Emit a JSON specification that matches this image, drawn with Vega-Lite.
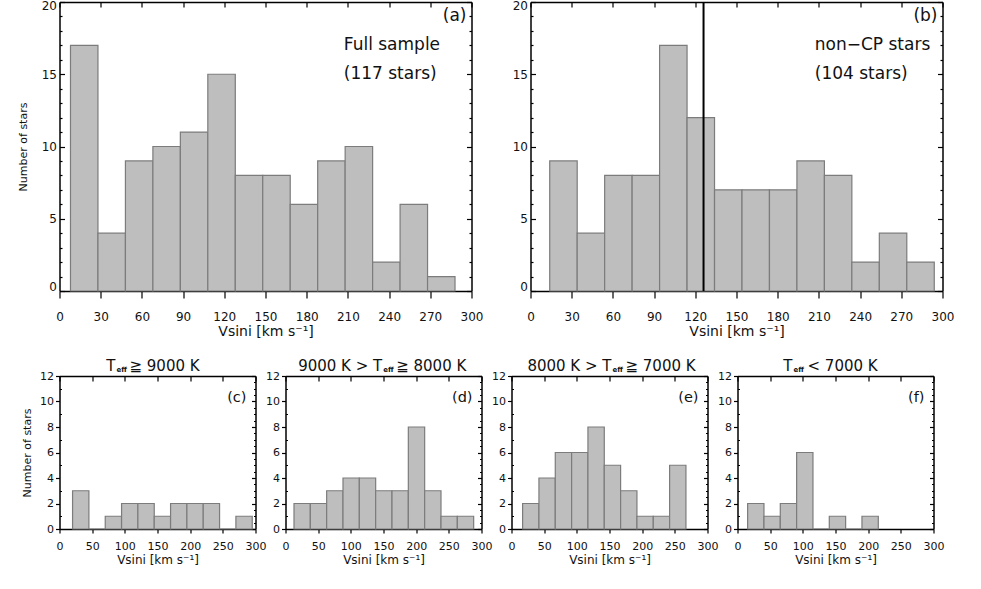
{
"$schema": "https://vega.github.io/schema/vega-lite/v6.json",
"padding": {"left": 16.5, "top": -1, "right": 5, "bottom": 5},
"background": "white",
"datasets": {
"a": [{"lo":8,"hi":28,"n":17},{"lo":28,"hi":48,"n":4},{"lo":48,"hi":68,"n":9},{"lo":68,"hi":88,"n":10},{"lo":88,"hi":108,"n":11},{"lo":108,"hi":128,"n":15},{"lo":128,"hi":148,"n":8},{"lo":148,"hi":168,"n":8},{"lo":168,"hi":188,"n":6},{"lo":188,"hi":208,"n":9},{"lo":208,"hi":228,"n":10},{"lo":228,"hi":248,"n":2},{"lo":248,"hi":268,"n":6},{"lo":268,"hi":288,"n":1}],
"b": [{"lo":14,"hi":34,"n":9},{"lo":34,"hi":54,"n":4},{"lo":54,"hi":74,"n":8},{"lo":74,"hi":94,"n":8},{"lo":94,"hi":114,"n":17},{"lo":114,"hi":134,"n":12},{"lo":134,"hi":154,"n":7},{"lo":154,"hi":174,"n":7},{"lo":174,"hi":194,"n":7},{"lo":194,"hi":214,"n":9},{"lo":214,"hi":234,"n":8},{"lo":234,"hi":254,"n":2},{"lo":254,"hi":274,"n":4},{"lo":274,"hi":294,"n":2}],
"c": [{"lo":20,"hi":45,"n":3},{"lo":45,"hi":70,"n":0},{"lo":70,"hi":95,"n":1},{"lo":95,"hi":120,"n":2},{"lo":120,"hi":145,"n":2},{"lo":145,"hi":170,"n":1},{"lo":170,"hi":195,"n":2},{"lo":195,"hi":220,"n":2},{"lo":220,"hi":245,"n":2},{"lo":245,"hi":270,"n":0},{"lo":270,"hi":295,"n":1}],
"d": [{"lo":13,"hi":38,"n":2},{"lo":38,"hi":63,"n":2},{"lo":63,"hi":88,"n":3},{"lo":88,"hi":113,"n":4},{"lo":113,"hi":138,"n":4},{"lo":138,"hi":163,"n":3},{"lo":163,"hi":188,"n":3},{"lo":188,"hi":213,"n":8},{"lo":213,"hi":238,"n":3},{"lo":238,"hi":263,"n":1},{"lo":263,"hi":288,"n":1}],
"e": [{"lo":17,"hi":42,"n":2},{"lo":42,"hi":67,"n":4},{"lo":67,"hi":92,"n":6},{"lo":92,"hi":117,"n":6},{"lo":117,"hi":142,"n":8},{"lo":142,"hi":167,"n":5},{"lo":167,"hi":192,"n":3},{"lo":192,"hi":217,"n":1},{"lo":217,"hi":242,"n":1},{"lo":242,"hi":267,"n":5}],
"f": [{"lo":15.5,"hi":40.5,"n":2},{"lo":40.5,"hi":65.5,"n":1},{"lo":65.5,"hi":90.5,"n":2},{"lo":90.5,"hi":115.5,"n":6},{"lo":115.5,"hi":140.5,"n":0},{"lo":140.5,"hi":165.5,"n":1},{"lo":165.5,"hi":190.5,"n":0},{"lo":190.5,"hi":215.5,"n":1}]
},
"config": {
"view": {"stroke": null},
"axis": {"domainColor": "#000", "domainWidth": 1.5, "tickColor": "#000", "tickWidth": 1.2, "labelFont": "DejaVu Sans", "labelColor": "#111", "titleFont": "DejaVu Sans", "titleColor": "#111", "titleFontWeight": "normal", "grid": false, "zindex": 1, "labelFlush": false},
"text": {"font": "DejaVu Sans", "color": "#111"},
"bar": {"fill": "#bebebe", "stroke": "#7c7c7c", "strokeWidth": 1.2}
},
"spacing": 21,
"vconcat": [
{
"hconcat": [
{
"width": 412, "height": 289,
"resolve": {"axis": {"x": "independent", "y": "independent"}},
"layer": [
{"data": {"name": "a"}, "mark": {"type": "bar"},
"encoding": {
"x": {"field": "lo", "type": "quantitative", "scale": {"domain": [0, 300], "nice": false, "zero": false}, "axis": {"orient": "bottom", "values": [0,30,60,90,120,150,180,210,240,270,300], "tickSize": 7, "labelFontSize": 12, "labelPadding": 13, "title": "Vsini [km s⁻¹]", "titleFontSize": 14, "titlePadding": 2}},
"x2": {"field": "hi"},
"y": {"field": "n", "type": "quantitative", "scale": {"domain": [0, 20], "nice": false}, "axis": {"orient": "left", "values": [0,1,2,3,4,5,6,7,8,9,10,11,12,13,14,15,16,17,18,19,20], "tickSize": {"condition": {"test": "datum.value % 5 === 0", "value": -5}, "value": -2.5}, "labelExpr": "datum.value % 5 === 0 ? datum.label : ''", "labelFontSize": 12, "labelPadding": 8, "labelFlush": true, "labelFlushOffset": 2, "title": "Number of stars", "titleFontSize": 11, "titlePadding": 13}},
"y2": {"datum": 0}
}},
{"data": {"values": [{}]}, "mark": {"type": "text", "text": "(a)", "align": "right", "baseline": "alphabetic", "dx": -5, "dy": 19, "fontSize": 17},
"encoding": {
"x": {"datum": 300, "type": "quantitative", "scale": {"domain": [0, 300]}, "axis": {"orient": "top", "values": [0,30,60,90,120,150,180,210,240,270,300], "tickSize": -5, "labels": false, "title": null}},
"y": {"datum": 20, "type": "quantitative", "scale": {"domain": [0, 20]}, "axis": {"orient": "right", "values": [0,1,2,3,4,5,6,7,8,9,10,11,12,13,14,15,16,17,18,19,20], "tickSize": {"condition": {"test": "datum.value % 5 === 0", "value": -5}, "value": -2.5}, "labels": false, "title": null}}
}},
{"data": {"values": [{}]}, "mark": {"type": "text", "text": ["Full sample", "(117 stars)"], "align": "left", "baseline": "alphabetic", "dy": 48, "lineHeight": 29, "fontSize": 17},
"encoding": {
"x": {"datum": 207, "type": "quantitative", "scale": {"domain": [0, 300]}, "axis": null},
"y": {"datum": 20, "type": "quantitative", "scale": {"domain": [0, 20]}, "axis": null}
}}
]
},
{
"width": 412, "height": 289,
"resolve": {"axis": {"x": "independent", "y": "independent"}},
"layer": [
{"data": {"name": "b"}, "mark": {"type": "bar"},
"encoding": {
"x": {"field": "lo", "type": "quantitative", "scale": {"domain": [0, 300], "nice": false, "zero": false}, "axis": {"orient": "bottom", "values": [0,30,60,90,120,150,180,210,240,270,300], "tickSize": 7, "labelFontSize": 12, "labelPadding": 13, "title": "Vsini [km s⁻¹]", "titleFontSize": 14, "titlePadding": 2}},
"x2": {"field": "hi"},
"y": {"field": "n", "type": "quantitative", "scale": {"domain": [0, 20], "nice": false}, "axis": {"orient": "left", "values": [0,1,2,3,4,5,6,7,8,9,10,11,12,13,14,15,16,17,18,19,20], "tickSize": {"condition": {"test": "datum.value % 5 === 0", "value": -5}, "value": -2.5}, "labelExpr": "datum.value % 5 === 0 ? datum.label : ''", "labelFontSize": 12, "labelPadding": 8, "labelFlush": true, "labelFlushOffset": 2, "title": null}},
"y2": {"datum": 0}
}},
{"data": {"values": [{}]}, "mark": {"type": "rule", "color": "#000", "strokeWidth": 2},
"encoding": {
"x": {"datum": 126, "type": "quantitative", "scale": {"domain": [0, 300]}, "axis": null}
}},
{"data": {"values": [{}]}, "mark": {"type": "text", "text": "(b)", "align": "right", "baseline": "alphabetic", "dx": -5, "dy": 19, "fontSize": 17},
"encoding": {
"x": {"datum": 300, "type": "quantitative", "scale": {"domain": [0, 300]}, "axis": {"orient": "top", "values": [0,30,60,90,120,150,180,210,240,270,300], "tickSize": -5, "labels": false, "title": null}},
"y": {"datum": 20, "type": "quantitative", "scale": {"domain": [0, 20]}, "axis": {"orient": "right", "values": [0,1,2,3,4,5,6,7,8,9,10,11,12,13,14,15,16,17,18,19,20], "tickSize": {"condition": {"test": "datum.value % 5 === 0", "value": -5}, "value": -2.5}, "labels": false, "title": null}}
}},
{"data": {"values": [{}]}, "mark": {"type": "text", "text": ["non−CP stars", "(104 stars)"], "align": "left", "baseline": "alphabetic", "dy": 48, "lineHeight": 29, "fontSize": 17},
"encoding": {
"x": {"datum": 207, "type": "quantitative", "scale": {"domain": [0, 300]}, "axis": null},
"y": {"datum": 20, "type": "quantitative", "scale": {"domain": [0, 20]}, "axis": null}
}}
]
}
],
"spacing": 59,
"bounds": "flush"
},
{
"hconcat": [
{
"width": 196, "height": 153,
"resolve": {"axis": {"x": "independent", "y": "independent"}},
"layer": [
{"data": {"name": "c"}, "mark": {"type": "bar"},
"encoding": {
"x": {"field": "lo", "type": "quantitative", "scale": {"domain": [0, 300], "nice": false, "zero": false}, "axis": {"orient": "bottom", "values": [0,50,100,150,200,250,300], "tickSize": 4, "labelFontSize": 11, "labelPadding": 7, "title": "Vsini [km s⁻¹]", "titleFontSize": 12, "titlePadding": 3}},
"x2": {"field": "hi"},
"y": {"field": "n", "type": "quantitative", "scale": {"domain": [0, 12], "nice": false}, "axis": {"orient": "left", "values": [0,0.5,1,1.5,2,2.5,3,3.5,4,4.5,5,5.5,6,6.5,7,7.5,8,8.5,9,9.5,10,10.5,11,11.5,12], "format": "d", "tickSize": {"condition": {"test": "datum.value % 2 === 0", "value": 4}, "value": -2}, "labelExpr": "datum.value % 2 === 0 ? datum.label : ''", "labelFontSize": 11, "labelPadding": 2, "title": "Number of stars", "titleFontSize": 11, "titlePadding": 7}},
"y2": {"datum": 0}
}},
{"data": {"values": [{}]}, "mark": {"type": "text", "text": "(c)", "align": "right", "baseline": "alphabetic", "dx": -9, "dy": 26, "fontSize": 14.5},
"encoding": {
"x": {"datum": 300, "type": "quantitative", "scale": {"domain": [0, 300]}, "axis": {"orient": "top", "values": [0,50,100,150,200,250,300], "tickSize": -5, "labels": false, "title": null}},
"y": {"datum": 12, "type": "quantitative", "scale": {"domain": [0, 12]}, "axis": {"orient": "right", "values": [0,0.5,1,1.5,2,2.5,3,3.5,4,4.5,5,5.5,6,6.5,7,7.5,8,8.5,9,9.5,10,10.5,11,11.5,12], "tickSize": {"condition": {"test": "datum.value % 2 === 0", "value": -4}, "value": -2}, "labels": false, "title": null}}
}},
{"data": {"values": [{}]}, "mark": {"type": "text", "text": "T", "align": "right", "baseline": "alphabetic", "dy": -5, "fontSize": 15},
"encoding": {"x": {"datum": 85.7, "type": "quantitative", "scale": {"domain": [0, 300]}, "axis": null}, "y": {"datum": 12, "type": "quantitative", "scale": {"domain": [0, 12]}, "axis": null}}},
{"data": {"values": [{}]}, "mark": {"type": "text", "text": "eff", "align": "left", "baseline": "alphabetic", "dx": 1, "dy": -4, "fontSize": 7, "fontWeight": "bold"},
"encoding": {"x": {"datum": 85.7, "type": "quantitative", "scale": {"domain": [0, 300]}, "axis": null}, "y": {"datum": 12, "type": "quantitative", "scale": {"domain": [0, 12]}, "axis": null}}},
{"data": {"values": [{}]}, "mark": {"type": "text", "text": "≧ 9000 K", "align": "left", "baseline": "alphabetic", "dx": 14, "dy": -5, "fontSize": 15},
"encoding": {"x": {"datum": 85.7, "type": "quantitative", "scale": {"domain": [0, 300]}, "axis": null}, "y": {"datum": 12, "type": "quantitative", "scale": {"domain": [0, 12]}, "axis": null}}}
]
},
{
"width": 196, "height": 153,
"resolve": {"axis": {"x": "independent", "y": "independent"}},
"layer": [
{"data": {"name": "d"}, "mark": {"type": "bar"},
"encoding": {
"x": {"field": "lo", "type": "quantitative", "scale": {"domain": [0, 300], "nice": false, "zero": false}, "axis": {"orient": "bottom", "values": [0,50,100,150,200,250,300], "tickSize": 4, "labelFontSize": 11, "labelPadding": 7, "title": "Vsini [km s⁻¹]", "titleFontSize": 12, "titlePadding": 3}},
"x2": {"field": "hi"},
"y": {"field": "n", "type": "quantitative", "scale": {"domain": [0, 12], "nice": false}, "axis": {"orient": "left", "values": [0,0.5,1,1.5,2,2.5,3,3.5,4,4.5,5,5.5,6,6.5,7,7.5,8,8.5,9,9.5,10,10.5,11,11.5,12], "format": "d", "tickSize": {"condition": {"test": "datum.value % 2 === 0", "value": 4}, "value": -2}, "labelExpr": "datum.value % 2 === 0 ? datum.label : ''", "labelFontSize": 11, "labelPadding": 2, "title": null}},
"y2": {"datum": 0}
}},
{"data": {"values": [{}]}, "mark": {"type": "text", "text": "(d)", "align": "right", "baseline": "alphabetic", "dx": -9, "dy": 26, "fontSize": 14.5},
"encoding": {
"x": {"datum": 300, "type": "quantitative", "scale": {"domain": [0, 300]}, "axis": {"orient": "top", "values": [0,50,100,150,200,250,300], "tickSize": -5, "labels": false, "title": null}},
"y": {"datum": 12, "type": "quantitative", "scale": {"domain": [0, 12]}, "axis": {"orient": "right", "values": [0,0.5,1,1.5,2,2.5,3,3.5,4,4.5,5,5.5,6,6.5,7,7.5,8,8.5,9,9.5,10,10.5,11,11.5,12], "tickSize": {"condition": {"test": "datum.value % 2 === 0", "value": -4}, "value": -2}, "labels": false, "title": null}}
}},
{"data": {"values": [{}]}, "mark": {"type": "text", "text": "9000 K > T", "align": "right", "baseline": "alphabetic", "dy": -5, "fontSize": 15},
"encoding": {"x": {"datum": 148, "type": "quantitative", "scale": {"domain": [0, 300]}, "axis": null}, "y": {"datum": 12, "type": "quantitative", "scale": {"domain": [0, 12]}, "axis": null}}},
{"data": {"values": [{}]}, "mark": {"type": "text", "text": "eff", "align": "left", "baseline": "alphabetic", "dx": 1, "dy": -4, "fontSize": 7, "fontWeight": "bold"},
"encoding": {"x": {"datum": 148, "type": "quantitative", "scale": {"domain": [0, 300]}, "axis": null}, "y": {"datum": 12, "type": "quantitative", "scale": {"domain": [0, 12]}, "axis": null}}},
{"data": {"values": [{}]}, "mark": {"type": "text", "text": "≧ 8000 K", "align": "left", "baseline": "alphabetic", "dx": 14, "dy": -5, "fontSize": 15},
"encoding": {"x": {"datum": 148, "type": "quantitative", "scale": {"domain": [0, 300]}, "axis": null}, "y": {"datum": 12, "type": "quantitative", "scale": {"domain": [0, 12]}, "axis": null}}}
]
},
{
"width": 196, "height": 153,
"resolve": {"axis": {"x": "independent", "y": "independent"}},
"layer": [
{"data": {"name": "e"}, "mark": {"type": "bar"},
"encoding": {
"x": {"field": "lo", "type": "quantitative", "scale": {"domain": [0, 300], "nice": false, "zero": false}, "axis": {"orient": "bottom", "values": [0,50,100,150,200,250,300], "tickSize": 4, "labelFontSize": 11, "labelPadding": 7, "title": "Vsini [km s⁻¹]", "titleFontSize": 12, "titlePadding": 3}},
"x2": {"field": "hi"},
"y": {"field": "n", "type": "quantitative", "scale": {"domain": [0, 12], "nice": false}, "axis": {"orient": "left", "values": [0,0.5,1,1.5,2,2.5,3,3.5,4,4.5,5,5.5,6,6.5,7,7.5,8,8.5,9,9.5,10,10.5,11,11.5,12], "format": "d", "tickSize": {"condition": {"test": "datum.value % 2 === 0", "value": 4}, "value": -2}, "labelExpr": "datum.value % 2 === 0 ? datum.label : ''", "labelFontSize": 11, "labelPadding": 2, "title": null}},
"y2": {"datum": 0}
}},
{"data": {"values": [{}]}, "mark": {"type": "text", "text": "(e)", "align": "right", "baseline": "alphabetic", "dx": -9, "dy": 26, "fontSize": 14.5},
"encoding": {
"x": {"datum": 300, "type": "quantitative", "scale": {"domain": [0, 300]}, "axis": {"orient": "top", "values": [0,50,100,150,200,250,300], "tickSize": -5, "labels": false, "title": null}},
"y": {"datum": 12, "type": "quantitative", "scale": {"domain": [0, 12]}, "axis": {"orient": "right", "values": [0,0.5,1,1.5,2,2.5,3,3.5,4,4.5,5,5.5,6,6.5,7,7.5,8,8.5,9,9.5,10,10.5,11,11.5,12], "tickSize": {"condition": {"test": "datum.value % 2 === 0", "value": -4}, "value": -2}, "labels": false, "title": null}}
}},
{"data": {"values": [{}]}, "mark": {"type": "text", "text": "8000 K > T", "align": "right", "baseline": "alphabetic", "dy": -5, "fontSize": 15},
"encoding": {"x": {"datum": 153, "type": "quantitative", "scale": {"domain": [0, 300]}, "axis": null}, "y": {"datum": 12, "type": "quantitative", "scale": {"domain": [0, 12]}, "axis": null}}},
{"data": {"values": [{}]}, "mark": {"type": "text", "text": "eff", "align": "left", "baseline": "alphabetic", "dx": 1, "dy": -4, "fontSize": 7, "fontWeight": "bold"},
"encoding": {"x": {"datum": 153, "type": "quantitative", "scale": {"domain": [0, 300]}, "axis": null}, "y": {"datum": 12, "type": "quantitative", "scale": {"domain": [0, 12]}, "axis": null}}},
{"data": {"values": [{}]}, "mark": {"type": "text", "text": "≧ 7000 K", "align": "left", "baseline": "alphabetic", "dx": 14, "dy": -5, "fontSize": 15},
"encoding": {"x": {"datum": 153, "type": "quantitative", "scale": {"domain": [0, 300]}, "axis": null}, "y": {"datum": 12, "type": "quantitative", "scale": {"domain": [0, 12]}, "axis": null}}}
]
},
{
"width": 196, "height": 153,
"resolve": {"axis": {"x": "independent", "y": "independent"}},
"layer": [
{"data": {"name": "f"}, "mark": {"type": "bar"},
"encoding": {
"x": {"field": "lo", "type": "quantitative", "scale": {"domain": [0, 300], "nice": false, "zero": false}, "axis": {"orient": "bottom", "values": [0,50,100,150,200,250,300], "tickSize": 4, "labelFontSize": 11, "labelPadding": 7, "title": "Vsini [km s⁻¹]", "titleFontSize": 12, "titlePadding": 3}},
"x2": {"field": "hi"},
"y": {"field": "n", "type": "quantitative", "scale": {"domain": [0, 12], "nice": false}, "axis": {"orient": "left", "values": [0,0.5,1,1.5,2,2.5,3,3.5,4,4.5,5,5.5,6,6.5,7,7.5,8,8.5,9,9.5,10,10.5,11,11.5,12], "format": "d", "tickSize": {"condition": {"test": "datum.value % 2 === 0", "value": 4}, "value": -2}, "labelExpr": "datum.value % 2 === 0 ? datum.label : ''", "labelFontSize": 11, "labelPadding": 2, "title": null}},
"y2": {"datum": 0}
}},
{"data": {"values": [{}]}, "mark": {"type": "text", "text": "(f)", "align": "right", "baseline": "alphabetic", "dx": -9, "dy": 26, "fontSize": 14.5},
"encoding": {
"x": {"datum": 300, "type": "quantitative", "scale": {"domain": [0, 300]}, "axis": {"orient": "top", "values": [0,50,100,150,200,250,300], "tickSize": -5, "labels": false, "title": null}},
"y": {"datum": 12, "type": "quantitative", "scale": {"domain": [0, 12]}, "axis": {"orient": "right", "values": [0,0.5,1,1.5,2,2.5,3,3.5,4,4.5,5,5.5,6,6.5,7,7.5,8,8.5,9,9.5,10,10.5,11,11.5,12], "tickSize": {"condition": {"test": "datum.value % 2 === 0", "value": -4}, "value": -2}, "labels": false, "title": null}}
}},
{"data": {"values": [{}]}, "mark": {"type": "text", "text": "T", "align": "right", "baseline": "alphabetic", "dy": -5, "fontSize": 15},
"encoding": {"x": {"datum": 84.2, "type": "quantitative", "scale": {"domain": [0, 300]}, "axis": null}, "y": {"datum": 12, "type": "quantitative", "scale": {"domain": [0, 12]}, "axis": null}}},
{"data": {"values": [{}]}, "mark": {"type": "text", "text": "eff", "align": "left", "baseline": "alphabetic", "dx": 1, "dy": -4, "fontSize": 7, "fontWeight": "bold"},
"encoding": {"x": {"datum": 84.2, "type": "quantitative", "scale": {"domain": [0, 300]}, "axis": null}, "y": {"datum": 12, "type": "quantitative", "scale": {"domain": [0, 12]}, "axis": null}}},
{"data": {"values": [{}]}, "mark": {"type": "text", "text": "< 7000 K", "align": "left", "baseline": "alphabetic", "dx": 15, "dy": -5, "fontSize": 15},
"encoding": {"x": {"datum": 84.2, "type": "quantitative", "scale": {"domain": [0, 300]}, "axis": null}, "y": {"datum": 12, "type": "quantitative", "scale": {"domain": [0, 12]}, "axis": null}}}
]
}
],
"spacing": 30,
"bounds": "flush"
}
]
}
